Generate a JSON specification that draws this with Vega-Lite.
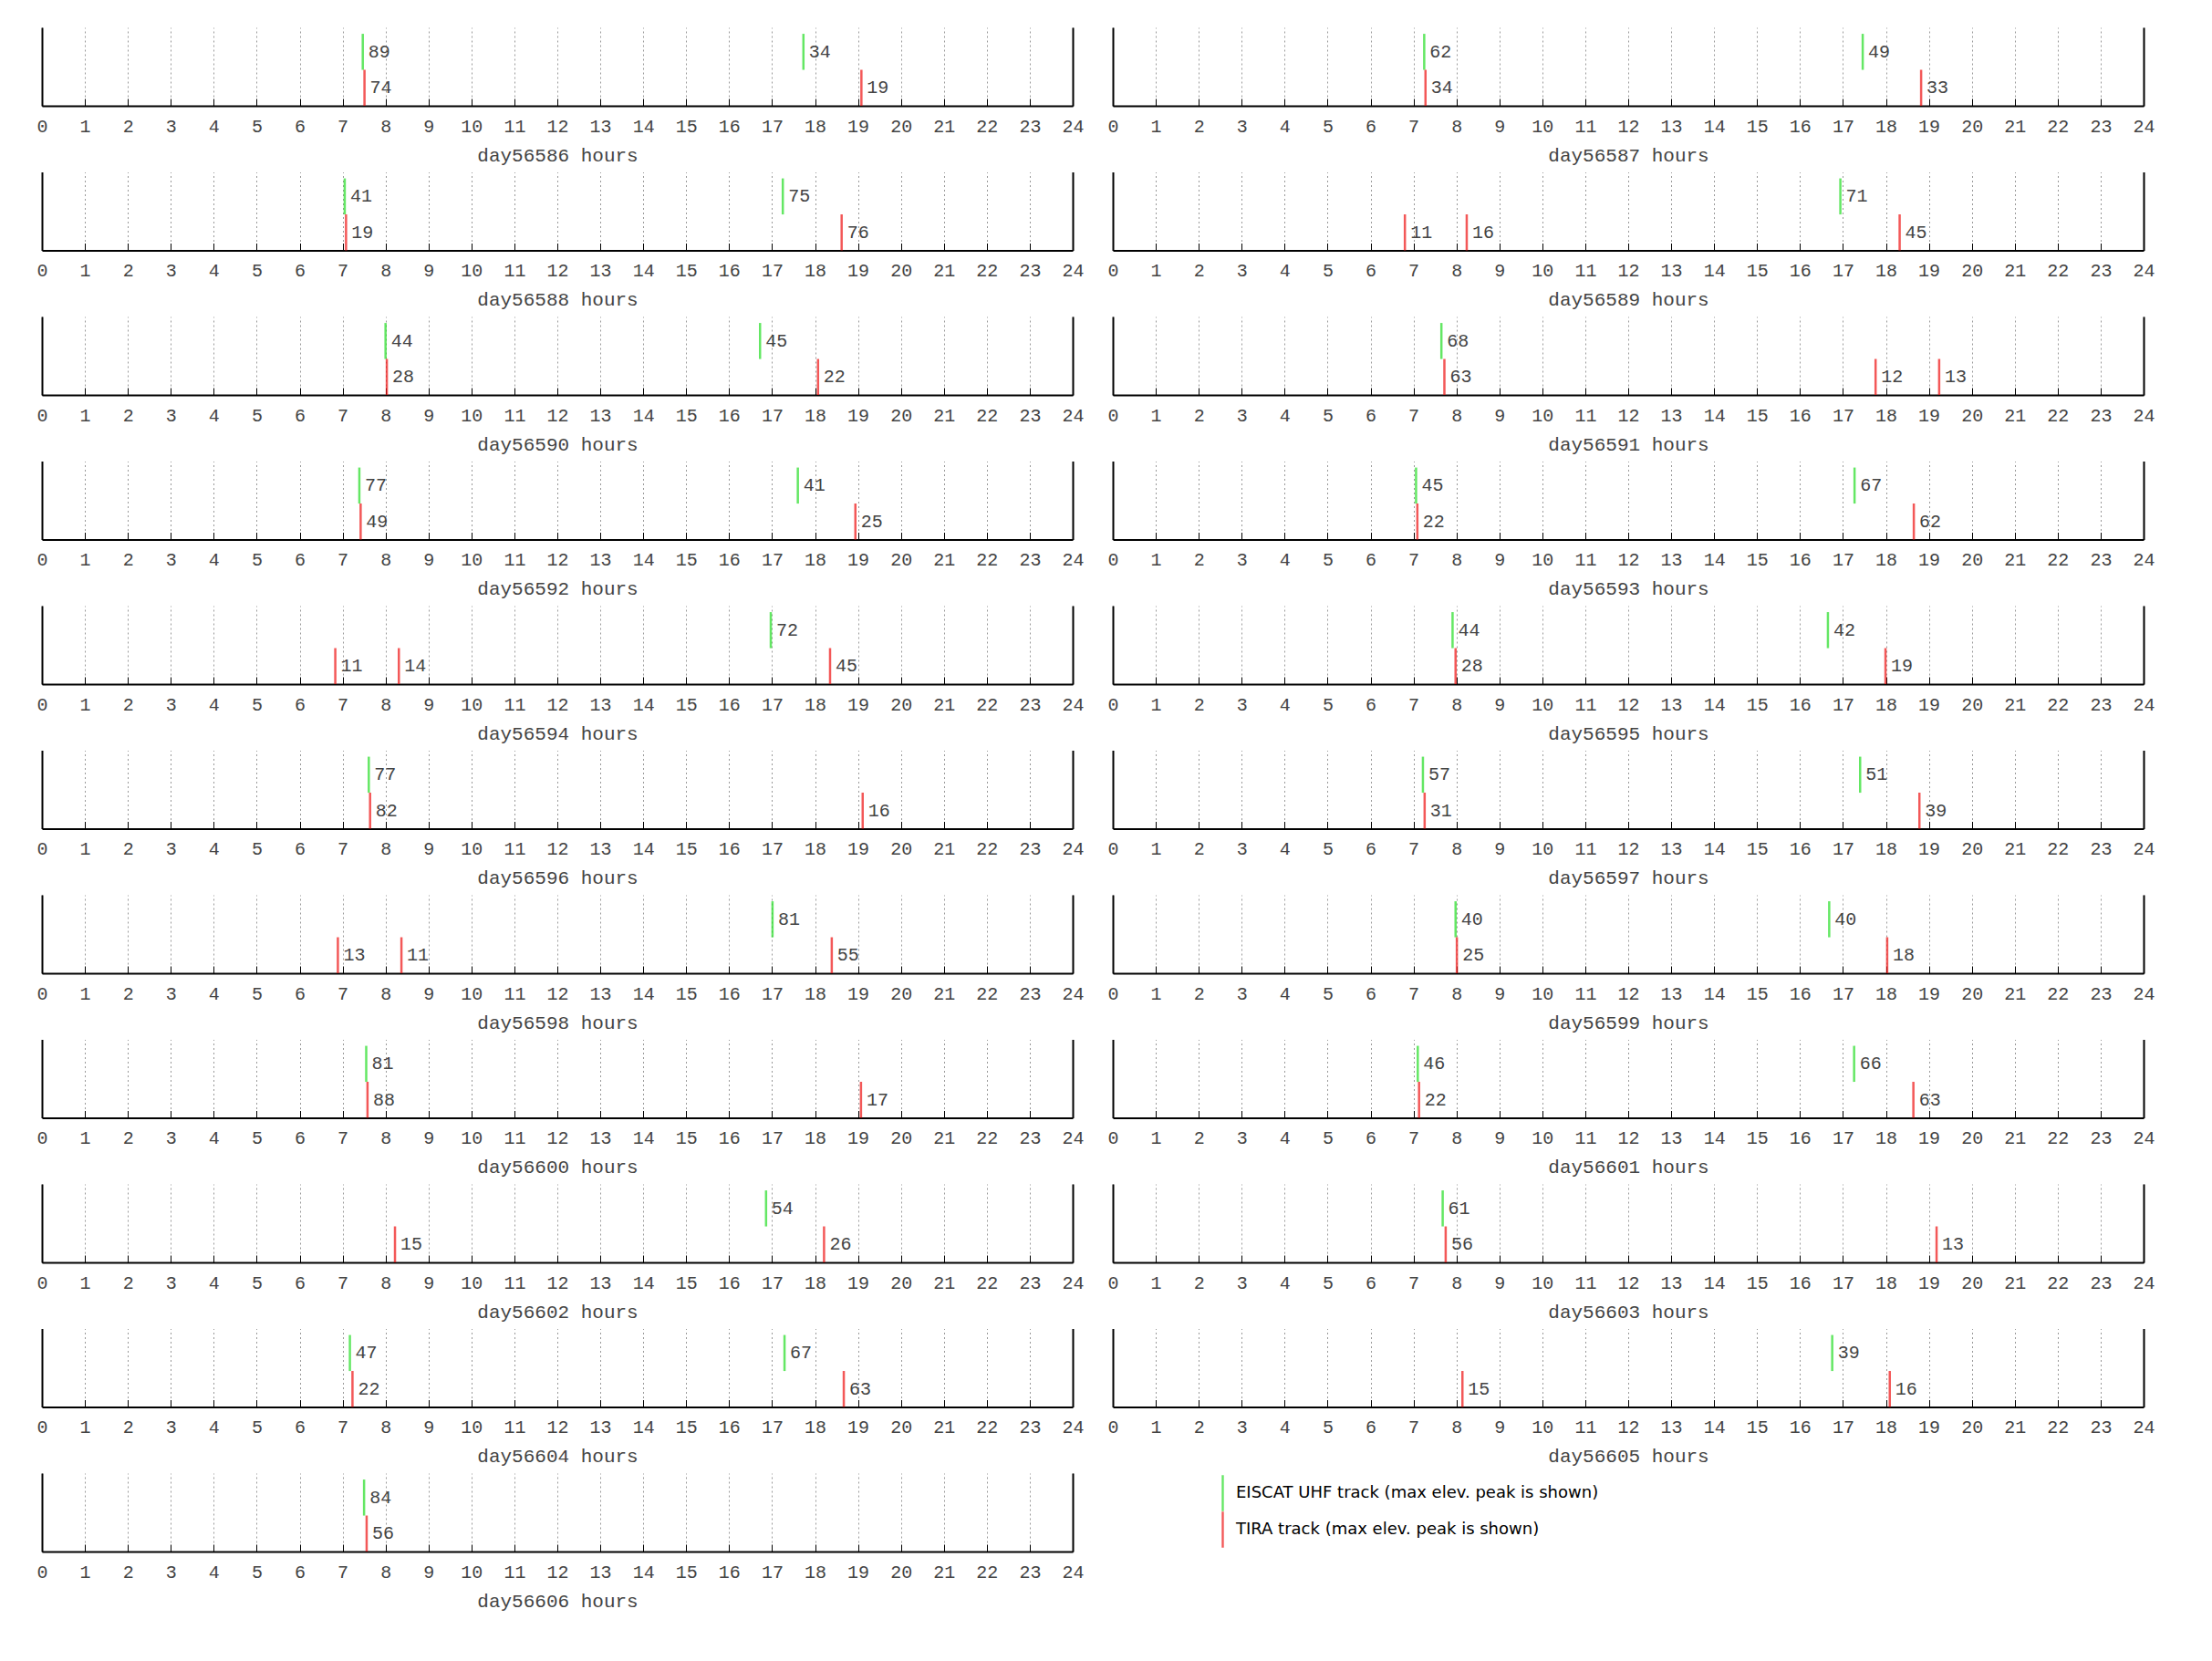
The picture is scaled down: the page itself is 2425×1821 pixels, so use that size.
{
"$schema": "https://vega.github.io/schema/vega-lite/v6.json",
"background": "white",
"padding": {"left": 39, "top": 30, "right": 5, "bottom": 5},
"columns": 2,
"spacing": {"row": 72.5, "column": 44},
"bounds": "flush",
"resolve": {"scale": {"color": "shared"}, "legend": {"color": "shared"}},
"config": {
  "view": {"stroke": null},
  "axisX": {"tickCount": 24, "grid": true, "gridDash": [2, 3], "gridColor": "#999999", "gridWidth": 1, "tickSize": -8, "tickColor": "black", "tickWidth": 1, "domainColor": "black", "domainWidth": 2, "labelFont": "Liberation Mono", "labelFontSize": 20, "labelColor": "#444444", "labelPadding": 20, "labelFlush": false, "labelOverlap": false, "titleFont": "Liberation Mono", "titleFontSize": 21, "titleFontWeight": "normal", "titleColor": "#444444", "titlePadding": 11},
  "axisY": {"labels": false, "ticks": false, "grid": false, "domainColor": "black", "domainWidth": 2},
  "text": {"font": "Liberation Mono", "fontSize": 20, "color": "#444444"},
  "legend": {"symbolType": "M-0.06,-1H0.06V1H-0.06Z", "symbolSize": 1560, "rowPadding": 0, "padding": 0, "labelFont": "DejaVu Sans", "labelFontSize": 18, "labelColor": "black", "labelOffset": -5.5, "labelLimit": 0, "symbolStrokeWidth": 0}
},
"data": {"values": [
{"day":56586,"hour":7.47,"track":"EISCAT","elev":89},{"day":56586,"hour":7.51,"track":"TIRA","elev":74},{"day":56586,"hour":17.73,"track":"EISCAT","elev":34},{"day":56586,"hour":19.08,"track":"TIRA","elev":19},
{"day":56587,"hour":7.25,"track":"EISCAT","elev":62},{"day":56587,"hour":7.28,"track":"TIRA","elev":34},{"day":56587,"hour":17.46,"track":"EISCAT","elev":49},{"day":56587,"hour":18.82,"track":"TIRA","elev":33},
{"day":56588,"hour":7.05,"track":"EISCAT","elev":41},{"day":56588,"hour":7.08,"track":"TIRA","elev":19},{"day":56588,"hour":17.25,"track":"EISCAT","elev":75},{"day":56588,"hour":18.62,"track":"TIRA","elev":76},
{"day":56589,"hour":6.8,"track":"TIRA","elev":11},{"day":56589,"hour":8.24,"track":"TIRA","elev":16},{"day":56589,"hour":16.94,"track":"EISCAT","elev":71},{"day":56589,"hour":18.32,"track":"TIRA","elev":45},
{"day":56590,"hour":8.0,"track":"EISCAT","elev":44},{"day":56590,"hour":8.03,"track":"TIRA","elev":28},{"day":56590,"hour":16.72,"track":"EISCAT","elev":45},{"day":56590,"hour":18.07,"track":"TIRA","elev":22},
{"day":56591,"hour":7.65,"track":"EISCAT","elev":68},{"day":56591,"hour":7.72,"track":"TIRA","elev":63},{"day":56591,"hour":17.76,"track":"TIRA","elev":12},{"day":56591,"hour":19.24,"track":"TIRA","elev":13},
{"day":56592,"hour":7.39,"track":"EISCAT","elev":77},{"day":56592,"hour":7.42,"track":"TIRA","elev":49},{"day":56592,"hour":17.6,"track":"EISCAT","elev":41},{"day":56592,"hour":18.94,"track":"TIRA","elev":25},
{"day":56593,"hour":7.06,"track":"EISCAT","elev":45},{"day":56593,"hour":7.09,"track":"TIRA","elev":22},{"day":56593,"hour":17.27,"track":"EISCAT","elev":67},{"day":56593,"hour":18.65,"track":"TIRA","elev":62},
{"day":56594,"hour":6.83,"track":"TIRA","elev":11},{"day":56594,"hour":8.31,"track":"TIRA","elev":14},{"day":56594,"hour":16.97,"track":"EISCAT","elev":72},{"day":56594,"hour":18.35,"track":"TIRA","elev":45},
{"day":56595,"hour":7.91,"track":"EISCAT","elev":44},{"day":56595,"hour":7.98,"track":"TIRA","elev":28},{"day":56595,"hour":16.65,"track":"EISCAT","elev":42},{"day":56595,"hour":17.99,"track":"TIRA","elev":19},
{"day":56596,"hour":7.61,"track":"EISCAT","elev":77},{"day":56596,"hour":7.64,"track":"TIRA","elev":82},{"day":56596,"hour":19.11,"track":"TIRA","elev":16},
{"day":56597,"hour":7.22,"track":"EISCAT","elev":57},{"day":56597,"hour":7.26,"track":"TIRA","elev":31},{"day":56597,"hour":17.4,"track":"EISCAT","elev":51},{"day":56597,"hour":18.78,"track":"TIRA","elev":39},
{"day":56598,"hour":6.89,"track":"TIRA","elev":13},{"day":56598,"hour":8.37,"track":"TIRA","elev":11},{"day":56598,"hour":17.01,"track":"EISCAT","elev":81},{"day":56598,"hour":18.39,"track":"TIRA","elev":55},
{"day":56599,"hour":7.98,"track":"EISCAT","elev":40},{"day":56599,"hour":8.01,"track":"TIRA","elev":25},{"day":56599,"hour":16.68,"track":"EISCAT","elev":40},{"day":56599,"hour":18.03,"track":"TIRA","elev":18},
{"day":56600,"hour":7.55,"track":"EISCAT","elev":81},{"day":56600,"hour":7.58,"track":"TIRA","elev":88},{"day":56600,"hour":19.07,"track":"TIRA","elev":17},
{"day":56601,"hour":7.1,"track":"EISCAT","elev":46},{"day":56601,"hour":7.13,"track":"TIRA","elev":22},{"day":56601,"hour":17.26,"track":"EISCAT","elev":66},{"day":56601,"hour":18.64,"track":"TIRA","elev":63},
{"day":56602,"hour":8.22,"track":"TIRA","elev":15},{"day":56602,"hour":16.86,"track":"EISCAT","elev":54},{"day":56602,"hour":18.21,"track":"TIRA","elev":26},
{"day":56603,"hour":7.68,"track":"EISCAT","elev":61},{"day":56603,"hour":7.75,"track":"TIRA","elev":56},{"day":56603,"hour":19.18,"track":"TIRA","elev":13},
{"day":56604,"hour":7.17,"track":"EISCAT","elev":47},{"day":56604,"hour":7.23,"track":"TIRA","elev":22},{"day":56604,"hour":17.29,"track":"EISCAT","elev":67},{"day":56604,"hour":18.67,"track":"TIRA","elev":63},
{"day":56605,"hour":8.14,"track":"TIRA","elev":15},{"day":56605,"hour":16.75,"track":"EISCAT","elev":39},{"day":56605,"hour":18.09,"track":"TIRA","elev":16},
{"day":56606,"hour":7.5,"track":"EISCAT","elev":84},{"day":56606,"hour":7.56,"track":"TIRA","elev":56}
]},
"concat": [
{"width":1130,"height":86,"transform":[{"filter":"datum.day == 56586"}],"encoding":{"x":{"field":"hour","type":"quantitative","scale":{"domain":[0,24],"nice":false,"zero":false},"axis":{"title":"day56586 hours"}}},"layer":[{"mark":{"type":"tick","thickness":2.5,"size":39.5},"encoding":{"y":{"field":"track","type":"nominal","title":null,"scale":{"type":"band","domain":["EISCAT","TIRA"],"paddingInner":0,"paddingOuter":0.09,"align":1},"axis":{"orient":"left"}},"color":{"field":"track","type":"nominal","scale":{"domain":["EISCAT","TIRA"],"range":["#22dd22","#ee1111"]},"legend":{"title":null,"orient":"none","legendX":1274.5,"legendY":1587,"labelExpr":"datum.label == 'EISCAT' ? 'EISCAT UHF track (max elev. peak is shown)' : 'TIRA track (max elev. peak is shown)'"}}}},{"mark":{"type":"text","align":"left","baseline":"middle","dx":6},"encoding":{"y":{"field":"track","type":"nominal","title":null,"scale":{"type":"band","domain":["EISCAT","TIRA"],"paddingInner":0,"paddingOuter":0.09,"align":1},"axis":{"orient":"right"}},"text":{"field":"elev","type":"quantitative"}}}],"resolve":{"scale":{"y":"independent"},"axis":{"y":"independent"}}},
{"width":1130,"height":86,"transform":[{"filter":"datum.day == 56587"}],"encoding":{"x":{"field":"hour","type":"quantitative","scale":{"domain":[0,24],"nice":false,"zero":false},"axis":{"title":"day56587 hours"}}},"layer":[{"mark":{"type":"tick","thickness":2.5,"size":39.5},"encoding":{"y":{"field":"track","type":"nominal","title":null,"scale":{"type":"band","domain":["EISCAT","TIRA"],"paddingInner":0,"paddingOuter":0.09,"align":1},"axis":{"orient":"left"}},"color":{"field":"track","type":"nominal","scale":{"domain":["EISCAT","TIRA"],"range":["#22dd22","#ee1111"]},"legend":{"title":null,"orient":"none","legendX":1274.5,"legendY":1587,"labelExpr":"datum.label == 'EISCAT' ? 'EISCAT UHF track (max elev. peak is shown)' : 'TIRA track (max elev. peak is shown)'"}}}},{"mark":{"type":"text","align":"left","baseline":"middle","dx":6},"encoding":{"y":{"field":"track","type":"nominal","title":null,"scale":{"type":"band","domain":["EISCAT","TIRA"],"paddingInner":0,"paddingOuter":0.09,"align":1},"axis":{"orient":"right"}},"text":{"field":"elev","type":"quantitative"}}}],"resolve":{"scale":{"y":"independent"},"axis":{"y":"independent"}}},
{"width":1130,"height":86,"transform":[{"filter":"datum.day == 56588"}],"encoding":{"x":{"field":"hour","type":"quantitative","scale":{"domain":[0,24],"nice":false,"zero":false},"axis":{"title":"day56588 hours"}}},"layer":[{"mark":{"type":"tick","thickness":2.5,"size":39.5},"encoding":{"y":{"field":"track","type":"nominal","title":null,"scale":{"type":"band","domain":["EISCAT","TIRA"],"paddingInner":0,"paddingOuter":0.09,"align":1},"axis":{"orient":"left"}},"color":{"field":"track","type":"nominal","scale":{"domain":["EISCAT","TIRA"],"range":["#22dd22","#ee1111"]},"legend":{"title":null,"orient":"none","legendX":1274.5,"legendY":1587,"labelExpr":"datum.label == 'EISCAT' ? 'EISCAT UHF track (max elev. peak is shown)' : 'TIRA track (max elev. peak is shown)'"}}}},{"mark":{"type":"text","align":"left","baseline":"middle","dx":6},"encoding":{"y":{"field":"track","type":"nominal","title":null,"scale":{"type":"band","domain":["EISCAT","TIRA"],"paddingInner":0,"paddingOuter":0.09,"align":1},"axis":{"orient":"right"}},"text":{"field":"elev","type":"quantitative"}}}],"resolve":{"scale":{"y":"independent"},"axis":{"y":"independent"}}},
{"width":1130,"height":86,"transform":[{"filter":"datum.day == 56589"}],"encoding":{"x":{"field":"hour","type":"quantitative","scale":{"domain":[0,24],"nice":false,"zero":false},"axis":{"title":"day56589 hours"}}},"layer":[{"mark":{"type":"tick","thickness":2.5,"size":39.5},"encoding":{"y":{"field":"track","type":"nominal","title":null,"scale":{"type":"band","domain":["EISCAT","TIRA"],"paddingInner":0,"paddingOuter":0.09,"align":1},"axis":{"orient":"left"}},"color":{"field":"track","type":"nominal","scale":{"domain":["EISCAT","TIRA"],"range":["#22dd22","#ee1111"]},"legend":{"title":null,"orient":"none","legendX":1274.5,"legendY":1587,"labelExpr":"datum.label == 'EISCAT' ? 'EISCAT UHF track (max elev. peak is shown)' : 'TIRA track (max elev. peak is shown)'"}}}},{"mark":{"type":"text","align":"left","baseline":"middle","dx":6},"encoding":{"y":{"field":"track","type":"nominal","title":null,"scale":{"type":"band","domain":["EISCAT","TIRA"],"paddingInner":0,"paddingOuter":0.09,"align":1},"axis":{"orient":"right"}},"text":{"field":"elev","type":"quantitative"}}}],"resolve":{"scale":{"y":"independent"},"axis":{"y":"independent"}}},
{"width":1130,"height":86,"transform":[{"filter":"datum.day == 56590"}],"encoding":{"x":{"field":"hour","type":"quantitative","scale":{"domain":[0,24],"nice":false,"zero":false},"axis":{"title":"day56590 hours"}}},"layer":[{"mark":{"type":"tick","thickness":2.5,"size":39.5},"encoding":{"y":{"field":"track","type":"nominal","title":null,"scale":{"type":"band","domain":["EISCAT","TIRA"],"paddingInner":0,"paddingOuter":0.09,"align":1},"axis":{"orient":"left"}},"color":{"field":"track","type":"nominal","scale":{"domain":["EISCAT","TIRA"],"range":["#22dd22","#ee1111"]},"legend":{"title":null,"orient":"none","legendX":1274.5,"legendY":1587,"labelExpr":"datum.label == 'EISCAT' ? 'EISCAT UHF track (max elev. peak is shown)' : 'TIRA track (max elev. peak is shown)'"}}}},{"mark":{"type":"text","align":"left","baseline":"middle","dx":6},"encoding":{"y":{"field":"track","type":"nominal","title":null,"scale":{"type":"band","domain":["EISCAT","TIRA"],"paddingInner":0,"paddingOuter":0.09,"align":1},"axis":{"orient":"right"}},"text":{"field":"elev","type":"quantitative"}}}],"resolve":{"scale":{"y":"independent"},"axis":{"y":"independent"}}},
{"width":1130,"height":86,"transform":[{"filter":"datum.day == 56591"}],"encoding":{"x":{"field":"hour","type":"quantitative","scale":{"domain":[0,24],"nice":false,"zero":false},"axis":{"title":"day56591 hours"}}},"layer":[{"mark":{"type":"tick","thickness":2.5,"size":39.5},"encoding":{"y":{"field":"track","type":"nominal","title":null,"scale":{"type":"band","domain":["EISCAT","TIRA"],"paddingInner":0,"paddingOuter":0.09,"align":1},"axis":{"orient":"left"}},"color":{"field":"track","type":"nominal","scale":{"domain":["EISCAT","TIRA"],"range":["#22dd22","#ee1111"]},"legend":{"title":null,"orient":"none","legendX":1274.5,"legendY":1587,"labelExpr":"datum.label == 'EISCAT' ? 'EISCAT UHF track (max elev. peak is shown)' : 'TIRA track (max elev. peak is shown)'"}}}},{"mark":{"type":"text","align":"left","baseline":"middle","dx":6},"encoding":{"y":{"field":"track","type":"nominal","title":null,"scale":{"type":"band","domain":["EISCAT","TIRA"],"paddingInner":0,"paddingOuter":0.09,"align":1},"axis":{"orient":"right"}},"text":{"field":"elev","type":"quantitative"}}}],"resolve":{"scale":{"y":"independent"},"axis":{"y":"independent"}}},
{"width":1130,"height":86,"transform":[{"filter":"datum.day == 56592"}],"encoding":{"x":{"field":"hour","type":"quantitative","scale":{"domain":[0,24],"nice":false,"zero":false},"axis":{"title":"day56592 hours"}}},"layer":[{"mark":{"type":"tick","thickness":2.5,"size":39.5},"encoding":{"y":{"field":"track","type":"nominal","title":null,"scale":{"type":"band","domain":["EISCAT","TIRA"],"paddingInner":0,"paddingOuter":0.09,"align":1},"axis":{"orient":"left"}},"color":{"field":"track","type":"nominal","scale":{"domain":["EISCAT","TIRA"],"range":["#22dd22","#ee1111"]},"legend":{"title":null,"orient":"none","legendX":1274.5,"legendY":1587,"labelExpr":"datum.label == 'EISCAT' ? 'EISCAT UHF track (max elev. peak is shown)' : 'TIRA track (max elev. peak is shown)'"}}}},{"mark":{"type":"text","align":"left","baseline":"middle","dx":6},"encoding":{"y":{"field":"track","type":"nominal","title":null,"scale":{"type":"band","domain":["EISCAT","TIRA"],"paddingInner":0,"paddingOuter":0.09,"align":1},"axis":{"orient":"right"}},"text":{"field":"elev","type":"quantitative"}}}],"resolve":{"scale":{"y":"independent"},"axis":{"y":"independent"}}},
{"width":1130,"height":86,"transform":[{"filter":"datum.day == 56593"}],"encoding":{"x":{"field":"hour","type":"quantitative","scale":{"domain":[0,24],"nice":false,"zero":false},"axis":{"title":"day56593 hours"}}},"layer":[{"mark":{"type":"tick","thickness":2.5,"size":39.5},"encoding":{"y":{"field":"track","type":"nominal","title":null,"scale":{"type":"band","domain":["EISCAT","TIRA"],"paddingInner":0,"paddingOuter":0.09,"align":1},"axis":{"orient":"left"}},"color":{"field":"track","type":"nominal","scale":{"domain":["EISCAT","TIRA"],"range":["#22dd22","#ee1111"]},"legend":{"title":null,"orient":"none","legendX":1274.5,"legendY":1587,"labelExpr":"datum.label == 'EISCAT' ? 'EISCAT UHF track (max elev. peak is shown)' : 'TIRA track (max elev. peak is shown)'"}}}},{"mark":{"type":"text","align":"left","baseline":"middle","dx":6},"encoding":{"y":{"field":"track","type":"nominal","title":null,"scale":{"type":"band","domain":["EISCAT","TIRA"],"paddingInner":0,"paddingOuter":0.09,"align":1},"axis":{"orient":"right"}},"text":{"field":"elev","type":"quantitative"}}}],"resolve":{"scale":{"y":"independent"},"axis":{"y":"independent"}}},
{"width":1130,"height":86,"transform":[{"filter":"datum.day == 56594"}],"encoding":{"x":{"field":"hour","type":"quantitative","scale":{"domain":[0,24],"nice":false,"zero":false},"axis":{"title":"day56594 hours"}}},"layer":[{"mark":{"type":"tick","thickness":2.5,"size":39.5},"encoding":{"y":{"field":"track","type":"nominal","title":null,"scale":{"type":"band","domain":["EISCAT","TIRA"],"paddingInner":0,"paddingOuter":0.09,"align":1},"axis":{"orient":"left"}},"color":{"field":"track","type":"nominal","scale":{"domain":["EISCAT","TIRA"],"range":["#22dd22","#ee1111"]},"legend":{"title":null,"orient":"none","legendX":1274.5,"legendY":1587,"labelExpr":"datum.label == 'EISCAT' ? 'EISCAT UHF track (max elev. peak is shown)' : 'TIRA track (max elev. peak is shown)'"}}}},{"mark":{"type":"text","align":"left","baseline":"middle","dx":6},"encoding":{"y":{"field":"track","type":"nominal","title":null,"scale":{"type":"band","domain":["EISCAT","TIRA"],"paddingInner":0,"paddingOuter":0.09,"align":1},"axis":{"orient":"right"}},"text":{"field":"elev","type":"quantitative"}}}],"resolve":{"scale":{"y":"independent"},"axis":{"y":"independent"}}},
{"width":1130,"height":86,"transform":[{"filter":"datum.day == 56595"}],"encoding":{"x":{"field":"hour","type":"quantitative","scale":{"domain":[0,24],"nice":false,"zero":false},"axis":{"title":"day56595 hours"}}},"layer":[{"mark":{"type":"tick","thickness":2.5,"size":39.5},"encoding":{"y":{"field":"track","type":"nominal","title":null,"scale":{"type":"band","domain":["EISCAT","TIRA"],"paddingInner":0,"paddingOuter":0.09,"align":1},"axis":{"orient":"left"}},"color":{"field":"track","type":"nominal","scale":{"domain":["EISCAT","TIRA"],"range":["#22dd22","#ee1111"]},"legend":{"title":null,"orient":"none","legendX":1274.5,"legendY":1587,"labelExpr":"datum.label == 'EISCAT' ? 'EISCAT UHF track (max elev. peak is shown)' : 'TIRA track (max elev. peak is shown)'"}}}},{"mark":{"type":"text","align":"left","baseline":"middle","dx":6},"encoding":{"y":{"field":"track","type":"nominal","title":null,"scale":{"type":"band","domain":["EISCAT","TIRA"],"paddingInner":0,"paddingOuter":0.09,"align":1},"axis":{"orient":"right"}},"text":{"field":"elev","type":"quantitative"}}}],"resolve":{"scale":{"y":"independent"},"axis":{"y":"independent"}}},
{"width":1130,"height":86,"transform":[{"filter":"datum.day == 56596"}],"encoding":{"x":{"field":"hour","type":"quantitative","scale":{"domain":[0,24],"nice":false,"zero":false},"axis":{"title":"day56596 hours"}}},"layer":[{"mark":{"type":"tick","thickness":2.5,"size":39.5},"encoding":{"y":{"field":"track","type":"nominal","title":null,"scale":{"type":"band","domain":["EISCAT","TIRA"],"paddingInner":0,"paddingOuter":0.09,"align":1},"axis":{"orient":"left"}},"color":{"field":"track","type":"nominal","scale":{"domain":["EISCAT","TIRA"],"range":["#22dd22","#ee1111"]},"legend":{"title":null,"orient":"none","legendX":1274.5,"legendY":1587,"labelExpr":"datum.label == 'EISCAT' ? 'EISCAT UHF track (max elev. peak is shown)' : 'TIRA track (max elev. peak is shown)'"}}}},{"mark":{"type":"text","align":"left","baseline":"middle","dx":6},"encoding":{"y":{"field":"track","type":"nominal","title":null,"scale":{"type":"band","domain":["EISCAT","TIRA"],"paddingInner":0,"paddingOuter":0.09,"align":1},"axis":{"orient":"right"}},"text":{"field":"elev","type":"quantitative"}}}],"resolve":{"scale":{"y":"independent"},"axis":{"y":"independent"}}},
{"width":1130,"height":86,"transform":[{"filter":"datum.day == 56597"}],"encoding":{"x":{"field":"hour","type":"quantitative","scale":{"domain":[0,24],"nice":false,"zero":false},"axis":{"title":"day56597 hours"}}},"layer":[{"mark":{"type":"tick","thickness":2.5,"size":39.5},"encoding":{"y":{"field":"track","type":"nominal","title":null,"scale":{"type":"band","domain":["EISCAT","TIRA"],"paddingInner":0,"paddingOuter":0.09,"align":1},"axis":{"orient":"left"}},"color":{"field":"track","type":"nominal","scale":{"domain":["EISCAT","TIRA"],"range":["#22dd22","#ee1111"]},"legend":{"title":null,"orient":"none","legendX":1274.5,"legendY":1587,"labelExpr":"datum.label == 'EISCAT' ? 'EISCAT UHF track (max elev. peak is shown)' : 'TIRA track (max elev. peak is shown)'"}}}},{"mark":{"type":"text","align":"left","baseline":"middle","dx":6},"encoding":{"y":{"field":"track","type":"nominal","title":null,"scale":{"type":"band","domain":["EISCAT","TIRA"],"paddingInner":0,"paddingOuter":0.09,"align":1},"axis":{"orient":"right"}},"text":{"field":"elev","type":"quantitative"}}}],"resolve":{"scale":{"y":"independent"},"axis":{"y":"independent"}}},
{"width":1130,"height":86,"transform":[{"filter":"datum.day == 56598"}],"encoding":{"x":{"field":"hour","type":"quantitative","scale":{"domain":[0,24],"nice":false,"zero":false},"axis":{"title":"day56598 hours"}}},"layer":[{"mark":{"type":"tick","thickness":2.5,"size":39.5},"encoding":{"y":{"field":"track","type":"nominal","title":null,"scale":{"type":"band","domain":["EISCAT","TIRA"],"paddingInner":0,"paddingOuter":0.09,"align":1},"axis":{"orient":"left"}},"color":{"field":"track","type":"nominal","scale":{"domain":["EISCAT","TIRA"],"range":["#22dd22","#ee1111"]},"legend":{"title":null,"orient":"none","legendX":1274.5,"legendY":1587,"labelExpr":"datum.label == 'EISCAT' ? 'EISCAT UHF track (max elev. peak is shown)' : 'TIRA track (max elev. peak is shown)'"}}}},{"mark":{"type":"text","align":"left","baseline":"middle","dx":6},"encoding":{"y":{"field":"track","type":"nominal","title":null,"scale":{"type":"band","domain":["EISCAT","TIRA"],"paddingInner":0,"paddingOuter":0.09,"align":1},"axis":{"orient":"right"}},"text":{"field":"elev","type":"quantitative"}}}],"resolve":{"scale":{"y":"independent"},"axis":{"y":"independent"}}},
{"width":1130,"height":86,"transform":[{"filter":"datum.day == 56599"}],"encoding":{"x":{"field":"hour","type":"quantitative","scale":{"domain":[0,24],"nice":false,"zero":false},"axis":{"title":"day56599 hours"}}},"layer":[{"mark":{"type":"tick","thickness":2.5,"size":39.5},"encoding":{"y":{"field":"track","type":"nominal","title":null,"scale":{"type":"band","domain":["EISCAT","TIRA"],"paddingInner":0,"paddingOuter":0.09,"align":1},"axis":{"orient":"left"}},"color":{"field":"track","type":"nominal","scale":{"domain":["EISCAT","TIRA"],"range":["#22dd22","#ee1111"]},"legend":{"title":null,"orient":"none","legendX":1274.5,"legendY":1587,"labelExpr":"datum.label == 'EISCAT' ? 'EISCAT UHF track (max elev. peak is shown)' : 'TIRA track (max elev. peak is shown)'"}}}},{"mark":{"type":"text","align":"left","baseline":"middle","dx":6},"encoding":{"y":{"field":"track","type":"nominal","title":null,"scale":{"type":"band","domain":["EISCAT","TIRA"],"paddingInner":0,"paddingOuter":0.09,"align":1},"axis":{"orient":"right"}},"text":{"field":"elev","type":"quantitative"}}}],"resolve":{"scale":{"y":"independent"},"axis":{"y":"independent"}}},
{"width":1130,"height":86,"transform":[{"filter":"datum.day == 56600"}],"encoding":{"x":{"field":"hour","type":"quantitative","scale":{"domain":[0,24],"nice":false,"zero":false},"axis":{"title":"day56600 hours"}}},"layer":[{"mark":{"type":"tick","thickness":2.5,"size":39.5},"encoding":{"y":{"field":"track","type":"nominal","title":null,"scale":{"type":"band","domain":["EISCAT","TIRA"],"paddingInner":0,"paddingOuter":0.09,"align":1},"axis":{"orient":"left"}},"color":{"field":"track","type":"nominal","scale":{"domain":["EISCAT","TIRA"],"range":["#22dd22","#ee1111"]},"legend":{"title":null,"orient":"none","legendX":1274.5,"legendY":1587,"labelExpr":"datum.label == 'EISCAT' ? 'EISCAT UHF track (max elev. peak is shown)' : 'TIRA track (max elev. peak is shown)'"}}}},{"mark":{"type":"text","align":"left","baseline":"middle","dx":6},"encoding":{"y":{"field":"track","type":"nominal","title":null,"scale":{"type":"band","domain":["EISCAT","TIRA"],"paddingInner":0,"paddingOuter":0.09,"align":1},"axis":{"orient":"right"}},"text":{"field":"elev","type":"quantitative"}}}],"resolve":{"scale":{"y":"independent"},"axis":{"y":"independent"}}},
{"width":1130,"height":86,"transform":[{"filter":"datum.day == 56601"}],"encoding":{"x":{"field":"hour","type":"quantitative","scale":{"domain":[0,24],"nice":false,"zero":false},"axis":{"title":"day56601 hours"}}},"layer":[{"mark":{"type":"tick","thickness":2.5,"size":39.5},"encoding":{"y":{"field":"track","type":"nominal","title":null,"scale":{"type":"band","domain":["EISCAT","TIRA"],"paddingInner":0,"paddingOuter":0.09,"align":1},"axis":{"orient":"left"}},"color":{"field":"track","type":"nominal","scale":{"domain":["EISCAT","TIRA"],"range":["#22dd22","#ee1111"]},"legend":{"title":null,"orient":"none","legendX":1274.5,"legendY":1587,"labelExpr":"datum.label == 'EISCAT' ? 'EISCAT UHF track (max elev. peak is shown)' : 'TIRA track (max elev. peak is shown)'"}}}},{"mark":{"type":"text","align":"left","baseline":"middle","dx":6},"encoding":{"y":{"field":"track","type":"nominal","title":null,"scale":{"type":"band","domain":["EISCAT","TIRA"],"paddingInner":0,"paddingOuter":0.09,"align":1},"axis":{"orient":"right"}},"text":{"field":"elev","type":"quantitative"}}}],"resolve":{"scale":{"y":"independent"},"axis":{"y":"independent"}}},
{"width":1130,"height":86,"transform":[{"filter":"datum.day == 56602"}],"encoding":{"x":{"field":"hour","type":"quantitative","scale":{"domain":[0,24],"nice":false,"zero":false},"axis":{"title":"day56602 hours"}}},"layer":[{"mark":{"type":"tick","thickness":2.5,"size":39.5},"encoding":{"y":{"field":"track","type":"nominal","title":null,"scale":{"type":"band","domain":["EISCAT","TIRA"],"paddingInner":0,"paddingOuter":0.09,"align":1},"axis":{"orient":"left"}},"color":{"field":"track","type":"nominal","scale":{"domain":["EISCAT","TIRA"],"range":["#22dd22","#ee1111"]},"legend":{"title":null,"orient":"none","legendX":1274.5,"legendY":1587,"labelExpr":"datum.label == 'EISCAT' ? 'EISCAT UHF track (max elev. peak is shown)' : 'TIRA track (max elev. peak is shown)'"}}}},{"mark":{"type":"text","align":"left","baseline":"middle","dx":6},"encoding":{"y":{"field":"track","type":"nominal","title":null,"scale":{"type":"band","domain":["EISCAT","TIRA"],"paddingInner":0,"paddingOuter":0.09,"align":1},"axis":{"orient":"right"}},"text":{"field":"elev","type":"quantitative"}}}],"resolve":{"scale":{"y":"independent"},"axis":{"y":"independent"}}},
{"width":1130,"height":86,"transform":[{"filter":"datum.day == 56603"}],"encoding":{"x":{"field":"hour","type":"quantitative","scale":{"domain":[0,24],"nice":false,"zero":false},"axis":{"title":"day56603 hours"}}},"layer":[{"mark":{"type":"tick","thickness":2.5,"size":39.5},"encoding":{"y":{"field":"track","type":"nominal","title":null,"scale":{"type":"band","domain":["EISCAT","TIRA"],"paddingInner":0,"paddingOuter":0.09,"align":1},"axis":{"orient":"left"}},"color":{"field":"track","type":"nominal","scale":{"domain":["EISCAT","TIRA"],"range":["#22dd22","#ee1111"]},"legend":{"title":null,"orient":"none","legendX":1274.5,"legendY":1587,"labelExpr":"datum.label == 'EISCAT' ? 'EISCAT UHF track (max elev. peak is shown)' : 'TIRA track (max elev. peak is shown)'"}}}},{"mark":{"type":"text","align":"left","baseline":"middle","dx":6},"encoding":{"y":{"field":"track","type":"nominal","title":null,"scale":{"type":"band","domain":["EISCAT","TIRA"],"paddingInner":0,"paddingOuter":0.09,"align":1},"axis":{"orient":"right"}},"text":{"field":"elev","type":"quantitative"}}}],"resolve":{"scale":{"y":"independent"},"axis":{"y":"independent"}}},
{"width":1130,"height":86,"transform":[{"filter":"datum.day == 56604"}],"encoding":{"x":{"field":"hour","type":"quantitative","scale":{"domain":[0,24],"nice":false,"zero":false},"axis":{"title":"day56604 hours"}}},"layer":[{"mark":{"type":"tick","thickness":2.5,"size":39.5},"encoding":{"y":{"field":"track","type":"nominal","title":null,"scale":{"type":"band","domain":["EISCAT","TIRA"],"paddingInner":0,"paddingOuter":0.09,"align":1},"axis":{"orient":"left"}},"color":{"field":"track","type":"nominal","scale":{"domain":["EISCAT","TIRA"],"range":["#22dd22","#ee1111"]},"legend":{"title":null,"orient":"none","legendX":1274.5,"legendY":1587,"labelExpr":"datum.label == 'EISCAT' ? 'EISCAT UHF track (max elev. peak is shown)' : 'TIRA track (max elev. peak is shown)'"}}}},{"mark":{"type":"text","align":"left","baseline":"middle","dx":6},"encoding":{"y":{"field":"track","type":"nominal","title":null,"scale":{"type":"band","domain":["EISCAT","TIRA"],"paddingInner":0,"paddingOuter":0.09,"align":1},"axis":{"orient":"right"}},"text":{"field":"elev","type":"quantitative"}}}],"resolve":{"scale":{"y":"independent"},"axis":{"y":"independent"}}},
{"width":1130,"height":86,"transform":[{"filter":"datum.day == 56605"}],"encoding":{"x":{"field":"hour","type":"quantitative","scale":{"domain":[0,24],"nice":false,"zero":false},"axis":{"title":"day56605 hours"}}},"layer":[{"mark":{"type":"tick","thickness":2.5,"size":39.5},"encoding":{"y":{"field":"track","type":"nominal","title":null,"scale":{"type":"band","domain":["EISCAT","TIRA"],"paddingInner":0,"paddingOuter":0.09,"align":1},"axis":{"orient":"left"}},"color":{"field":"track","type":"nominal","scale":{"domain":["EISCAT","TIRA"],"range":["#22dd22","#ee1111"]},"legend":{"title":null,"orient":"none","legendX":1274.5,"legendY":1587,"labelExpr":"datum.label == 'EISCAT' ? 'EISCAT UHF track (max elev. peak is shown)' : 'TIRA track (max elev. peak is shown)'"}}}},{"mark":{"type":"text","align":"left","baseline":"middle","dx":6},"encoding":{"y":{"field":"track","type":"nominal","title":null,"scale":{"type":"band","domain":["EISCAT","TIRA"],"paddingInner":0,"paddingOuter":0.09,"align":1},"axis":{"orient":"right"}},"text":{"field":"elev","type":"quantitative"}}}],"resolve":{"scale":{"y":"independent"},"axis":{"y":"independent"}}},
{"width":1130,"height":86,"transform":[{"filter":"datum.day == 56606"}],"encoding":{"x":{"field":"hour","type":"quantitative","scale":{"domain":[0,24],"nice":false,"zero":false},"axis":{"title":"day56606 hours"}}},"layer":[{"mark":{"type":"tick","thickness":2.5,"size":39.5},"encoding":{"y":{"field":"track","type":"nominal","title":null,"scale":{"type":"band","domain":["EISCAT","TIRA"],"paddingInner":0,"paddingOuter":0.09,"align":1},"axis":{"orient":"left"}},"color":{"field":"track","type":"nominal","scale":{"domain":["EISCAT","TIRA"],"range":["#22dd22","#ee1111"]},"legend":{"title":null,"orient":"none","legendX":1274.5,"legendY":1587,"labelExpr":"datum.label == 'EISCAT' ? 'EISCAT UHF track (max elev. peak is shown)' : 'TIRA track (max elev. peak is shown)'"}}}},{"mark":{"type":"text","align":"left","baseline":"middle","dx":6},"encoding":{"y":{"field":"track","type":"nominal","title":null,"scale":{"type":"band","domain":["EISCAT","TIRA"],"paddingInner":0,"paddingOuter":0.09,"align":1},"axis":{"orient":"right"}},"text":{"field":"elev","type":"quantitative"}}}],"resolve":{"scale":{"y":"independent"},"axis":{"y":"independent"}}}
]
}
